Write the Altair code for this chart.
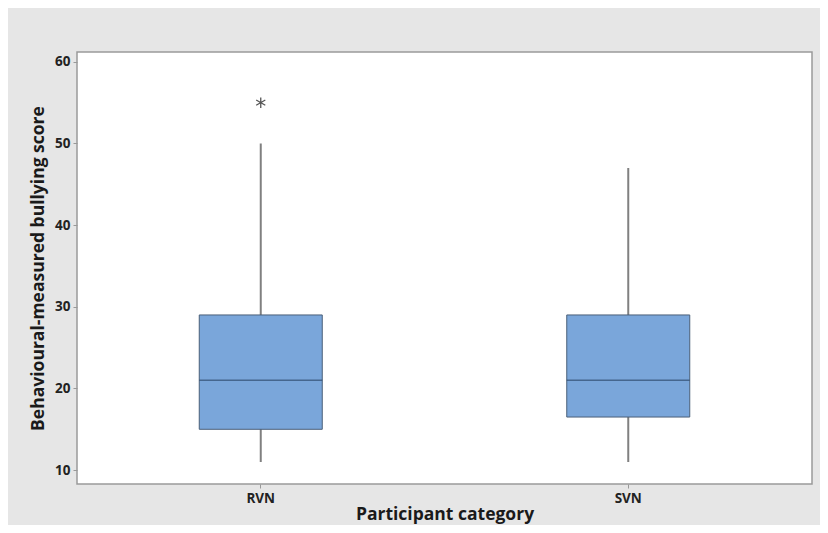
import altair as alt
import pandas as pd

categories = ["RVN", "SVN"]
q1 = [15, 16.5]
median = [21, 21]
q3 = [29, 29]
whisker_low = [11, 11]
whisker_high = [50, 47]
outlier_cat = ["RVN"]
outlier_val = [55]
y_ticks = [10, 20, 30, 40, 50, 60]

df = pd.DataFrame({"cat": categories, "q1": q1, "med": median, "q3": q3,
                   "lo": whisker_low, "hi": whisker_high})
out = pd.DataFrame({"cat": outlier_cat, "v": outlier_val})

FONT = "Open Sans"

xenc = alt.X("cat:N",
             scale=alt.Scale(domain=categories, paddingInner=0, paddingOuter=0),
             axis=alt.Axis(title="Participant category", labelAngle=0,
                           labelFont=FONT, labelFontSize=13.5, labelFontWeight="bold",
                           labelColor="#222222", tickColor="#999999", tickSize=4,
                           labelPadding=3, domain=False,
                           titleFont=FONT, titleFontSize=17.5, titleFontWeight="bold",
                           titleColor="#1a1a1a", titlePadding=1))
yscale = alt.Scale(domain=[8.3, 61.2], nice=False, zero=False)
yaxis = alt.Axis(title="Behavioural-measured bullying score", values=y_ticks, grid=False,
                 domain=False, tickColor="#999999", tickSize=4, labelPadding=3,
                 labelFont=FONT, labelFontSize=13.5, labelFontWeight="bold",
                 labelColor="#222222", titleFont=FONT, titleFontSize=17.5,
                 titleFontWeight="bold", titleColor="#1a1a1a", titlePadding=7)

base = alt.Chart(df)

whisk = base.mark_rule(color="#808080", strokeWidth=2).encode(
    x=xenc, y=alt.Y("lo:Q", scale=yscale, axis=yaxis), y2="hi:Q")

box = base.mark_bar(size=123, fill="#7aa6da", stroke="#4a5f78", strokeWidth=1).encode(
    x=xenc, y=alt.Y("q1:Q", scale=yscale), y2="q3:Q")

med = base.mark_tick(size=123, thickness=1.5, color="#2f4b6e").encode(
    x=xenc, y=alt.Y("med:Q", scale=yscale))

ast = "M0,-1L0,1M-0.87,-0.5L0.87,0.5M-0.87,0.5L0.87,-0.5"
outl = alt.Chart(out).mark_point(shape=ast, size=110, filled=False, stroke="#555555",
                                 strokeWidth=1.3, opacity=1).encode(
    x=xenc, y=alt.Y("v:Q", scale=yscale))

chart = alt.layer(whisk, box, med, outl).properties(
    width=735, height=432,
    autosize=alt.AutoSizeParams(type="none"),
    padding={"left": 69, "top": 44, "right": 8, "bottom": 41},
    background="#e6e6e6",
).configure_view(stroke="#9a9a9a", strokeWidth=1.5, fill="white")

chart.save("out.html", embed_options={"renderer": "svg", "actions": False})
